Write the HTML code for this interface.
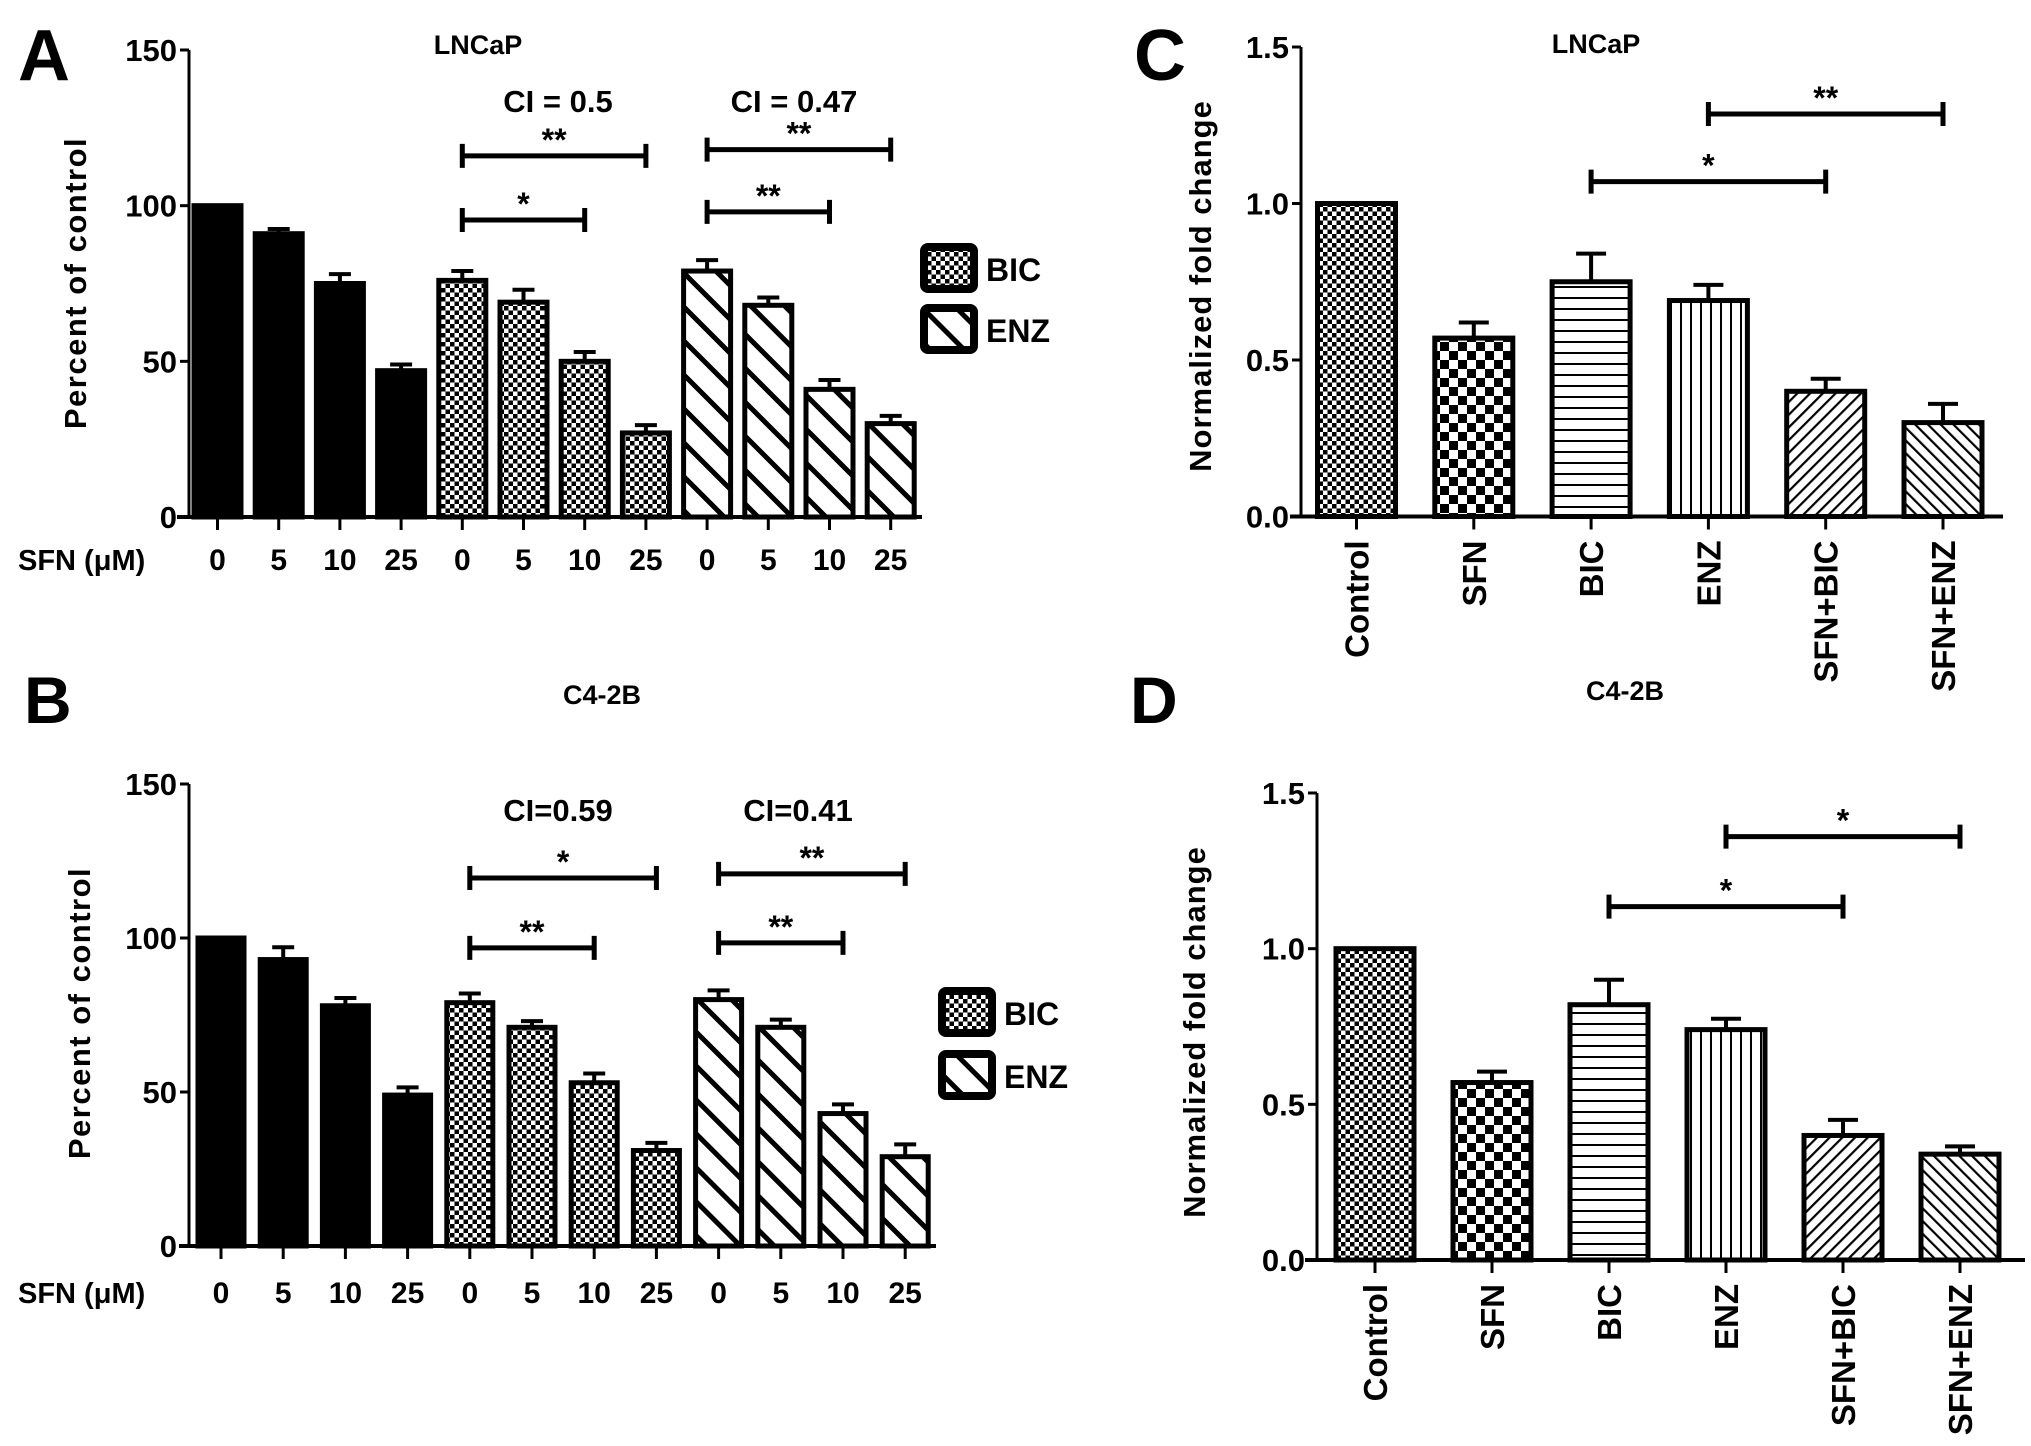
<!DOCTYPE html>
<html><head><meta charset="utf-8">
<style>
html,body{margin:0;padding:0;background:#fff;}
svg{display:block;}
text{font-family:"Liberation Sans",Arial,sans-serif;font-weight:bold;fill:#000;}
</style></head>
<body>
<svg id="fig" width="2031" height="1446" viewBox="0 0 2031 1446" xmlns="http://www.w3.org/2000/svg">
<defs>
<pattern id="pFine" width="9" height="9" patternUnits="userSpaceOnUse"><rect width="9" height="9" fill="#fff"/><rect x="0" y="0" width="4.5" height="4.5" fill="#000"/><rect x="4.5" y="4.5" width="4.5" height="4.5" fill="#000"/></pattern>
<pattern id="pBig" width="18" height="18" patternUnits="userSpaceOnUse"><rect width="18" height="18" fill="#fff"/><rect x="0" y="0" width="9" height="9" fill="#000"/><rect x="9" y="9" width="9" height="9" fill="#000"/></pattern>
<pattern id="pH" width="10" height="11" patternUnits="userSpaceOnUse"><rect width="10" height="11" fill="#fff"/><rect x="0" y="0" width="10" height="2" fill="#000"/></pattern>
<pattern id="pV" width="10" height="10" patternUnits="userSpaceOnUse"><rect width="10" height="10" fill="#fff"/><rect x="0" y="0" width="2" height="10" fill="#000"/></pattern>
<pattern id="pFwd" width="9" height="9" patternUnits="userSpaceOnUse" patternTransform="rotate(45)"><rect width="9" height="9" fill="#fff"/><rect x="0" y="0" width="2.2" height="9" fill="#000"/></pattern>
<pattern id="pBack" width="9" height="9" patternUnits="userSpaceOnUse" patternTransform="rotate(-45)"><rect width="9" height="9" fill="#fff"/><rect x="0" y="0" width="2.2" height="9" fill="#000"/></pattern>
<pattern id="pWide" width="24" height="24" patternUnits="userSpaceOnUse" patternTransform="rotate(-45)"><rect width="24" height="24" fill="#fff"/><rect x="0" y="0" width="5" height="24" fill="#000"/></pattern>
</defs>
</svg>
<script>
// ---- Panel A data (LNCaP, percent of control)
const doseLabels = ["0","5","10","25","0","5","10","25","0","5","10","25"];
const aValues = [100, 91, 75, 47, 76, 69, 50, 27, 79, 68, 41, 30];
const aErrors = [0, 1.5, 3, 2, 3, 4, 3, 2.5, 3.5, 2.5, 3, 2.5];
// ---- Panel B data (C4-2B, percent of control)
const bValues = [100, 93, 78, 49, 79, 71, 53, 31, 80, 71, 43, 29];
const bErrors = [0, 4, 2.5, 2.5, 3, 2, 3, 2.5, 3, 2.5, 3, 4];
const pctTicks = [0, 50, 100, 150];
// ---- Panel C/D data (normalized fold change)
const treatments = ["Control","SFN","BIC","ENZ","SFN+BIC","SFN+ENZ"];
const cValues = [1.0, 0.57, 0.75, 0.69, 0.40, 0.30];
const cErrors = [0, 0.05, 0.09, 0.05, 0.04, 0.06];
const dValues = [1.0, 0.57, 0.82, 0.74, 0.40, 0.34];
const dErrors = [0, 0.035, 0.08, 0.035, 0.05, 0.025];
const foldTicks = [0, 0.5, 1.0, 1.5];
const foldTickLabels = ["0.0","0.5","1.0","1.5"];
// significance brackets: [fromIndex, toIndex, yValue, label]
const aBrackets = [[4,7,116,"**"],[4,6,95.4,"*"],[8,11,118,"**"],[8,10,98,"**"]];
const bBrackets = [[4,7,119.5,"*"],[4,6,96.8,"**"],[8,11,120.8,"**"],[8,10,98.4,"**"]];
const cBrackets = [[2,4,1.07,"*"],[3,5,1.286,"**"]];
const dBrackets = [[2,4,1.135,"*"],[3,5,1.36,"*"]];

const NS = "http://www.w3.org/2000/svg";
const svg = document.getElementById("fig");
function el(tag, attrs, parent, txt){
  const e = document.createElementNS(NS, tag);
  for (const k in attrs) e.setAttribute(k, attrs[k]);
  if (txt !== undefined) e.textContent = txt;
  (parent||svg).appendChild(e);
  return e;
}

function panel(cfg){
  const g = el("g", {});
  
  
  const ys = v => cfg.y0 - (v - 0) / cfg.ymax * (cfg.y0 - cfg.yTop);
  const xs = i => cfg.x0 + i * cfg.sp;
  cfg.values.forEach((v, i) => {
    const top = ys(v);
    const err = cfg.errors[i];
    if (err > 0) {
      const ey = ys(v + err);
      const ebar = el("path", {d:`M${xs(i)} ${top} V${ey} M${xs(i)-cfg.cap/2} ${ey} H${xs(i)+cfg.cap/2}`, stroke:"#000","stroke-width":4, fill:"none"}, g);
      
      
    }
    const r = el("rect", {x:xs(i)-cfg.bw/2, y:top, width:cfg.bw, height:cfg.y0-top, fill:cfg.fills[i], stroke:"#000","stroke-width":5}, g);
    
    
  });
  const yax = el("line", {x1:cfg.ax, y1:cfg.yTop, x2:cfg.ax, y2:cfg.y0, stroke:"#000","stroke-width":3}, g);
  
  
  const xax = el("line", {x1:cfg.xaStart, y1:cfg.y0, x2:cfg.xaEnd, y2:cfg.y0, stroke:"#000","stroke-width":4}, g);
  
  
  cfg.ticks.forEach((t, k) => {
    el("line", {x1:cfg.ax-9, y1:ys(t), x2:cfg.ax, y2:ys(t), stroke:"#000","stroke-width":3}, g);
    const tl = el("text", {x:cfg.ax-12, y:ys(t)+11, "font-size":cfg.tickFont, "text-anchor":"end"}, g, cfg.tickLabels[k]);
    
    
  });
  cfg.values.forEach((v, i) => {
    el("line", {x1:xs(i), y1:cfg.y0, x2:xs(i), y2:cfg.y0+13, stroke:"#000","stroke-width":3}, g);
  });
  cfg.xLabels.forEach((lab, i) => {
    let t;
    if (cfg.rotate) {
      t = el("text", {x:0, y:0, "font-size":33, "text-anchor":"end", transform:`translate(${xs(i)+12},${cfg.y0+24}) rotate(-90)`}, g, lab);
    } else {
      t = el("text", {x:xs(i), y:cfg.xLabelY, "font-size":30, "text-anchor":"middle"}, g, lab);
    }
    
    
  });
  cfg.brackets.forEach(b => {
    const y = ys(b[2]), x1 = xs(b[0]), x2 = xs(b[1]);
    const p = el("path", {d:`M${x1} ${y-12} V${y+12} M${x1} ${y} H${x2} M${x2} ${y-12} V${y+12}`, stroke:"#000","stroke-width":5, fill:"none"}, g);
    
    
    const s = el("text", {x:(x1+x2)/2, y:y-5, "font-size":32, "text-anchor":"middle"}, g, b[3]);
    
    
  });
  const yt = el("text", {x:0, y:0, "font-size":cfg.yTitleFont, "text-anchor":"middle", transform:`translate(${cfg.yTitleX},${cfg.yTitleY}) rotate(-90)`, "letter-spacing":cfg.yTitleLs||0}, g, cfg.yTitle);
  
  
}

const fillsAB = ["#000","#000","#000","#000","url(#pFine)","url(#pFine)","url(#pFine)","url(#pFine)","url(#pWide)","url(#pWide)","url(#pWide)","url(#pWide)"];
const fillsCD = ["url(#pFine)","url(#pBig)","url(#pH)","url(#pV)","url(#pFwd)","url(#pBack)"];

panel({name:"panel-a-chart", values:aValues, errors:aErrors, fills:fillsAB, x0:217.5, sp:61.2, bw:47, cap:22,
  y0:517, yTop:50, ymax:150, ax:189, xaStart:177, xaEnd:922, ticks:pctTicks, tickLabels:pctTicks.map(String), tickFont:31,
  xLabels:doseLabels, rotate:false, xLabelY:570, brackets:aBrackets, yTitle:"Percent of control", yTitleX:86, yTitleY:283, yTitleFont:31, yTitleLs:1.5});
panel({name:"panel-b-chart", values:bValues, errors:bErrors, fills:fillsAB, x0:221, sp:62.2, bw:46, cap:22,
  y0:1246, yTop:784, ymax:150, ax:189, xaStart:179, xaEnd:936, ticks:pctTicks, tickLabels:pctTicks.map(String), tickFont:31,
  xLabels:doseLabels, rotate:false, xLabelY:1303, brackets:bBrackets, yTitle:"Percent of control", yTitleX:90, yTitleY:1013, yTitleFont:31, yTitleLs:1.5});
panel({name:"panel-c-chart", values:cValues, errors:cErrors, fills:fillsCD, x0:1356.5, sp:117.3, bw:78, cap:30,
  y0:516.5, yTop:47, ymax:1.5, ax:1301, xaStart:1290, xaEnd:2003, ticks:foldTicks, tickLabels:foldTickLabels, tickFont:31,
  xLabels:treatments, rotate:true, brackets:cBrackets, yTitle:"Normalized fold change", yTitleX:1211, yTitleY:286, yTitleFont:31, yTitleLs:1});
panel({name:"panel-d-chart", values:dValues, errors:dErrors, fills:fillsCD, x0:1375, sp:117, bw:78, cap:30,
  y0:1260, yTop:793, ymax:1.5, ax:1317, xaStart:1305, xaEnd:2025, ticks:foldTicks, tickLabels:foldTickLabels, tickFont:31,
  xLabels:treatments, rotate:true, brackets:dBrackets, yTitle:"Normalized fold change", yTitleX:1205, yTitleY:1032, yTitleFont:31, yTitleLs:1});

function txt(name, x, y, size, s, anchor){
  const t = el("text", {x:x, y:y, "font-size":size, "text-anchor":anchor||"middle"}, svg, s);
  
  
}
txt("panel-label-a", 18, 80, 72, "A", "start");
txt("panel-label-b", 24, 723, 66, "B", "start");
txt("panel-label-c", 1134, 80, 72, "C", "start");
txt("panel-label-d", 1130, 723, 66, "D", "start");
txt("title-a", 478, 54, 27, "LNCaP");
txt("title-b", 602, 704, 27, "C4-2B");
txt("title-c", 1596, 53, 27, "LNCaP");
txt("title-d", 1625, 700, 27, "C4-2B");
txt("ci-label-bic-a", 558, 112, 31, "CI = 0.5");
txt("ci-label-enz-a", 794, 112, 31, "CI = 0.47");
txt("ci-label-bic-b", 558, 821, 31, "CI=0.59");
txt("ci-label-enz-b", 798, 821, 31, "CI=0.41");
txt("sfn-label-a", 18, 570, 29, "SFN (μM)", "start");
txt("sfn-label-b", 18, 1303, 29, "SFN (μM)", "start");

function legend(name, x, y, fill, label){
  const g = el("g", {});
  
  
  el("rect", {x:x+4, y:y+4, width:50, height:42, rx:4, fill:fill, stroke:"#000","stroke-width":8}, g);
  el("text", {x:x+66, y:y+38, "font-size":32, "text-anchor":"start"}, g, label);
}
legend("legend-bic-a", 920, 243, "url(#pFine)", "BIC");
legend("legend-enz-a", 920, 304, "url(#pWide)", "ENZ");
legend("legend-bic-b", 938, 987, "url(#pFine)", "BIC");
legend("legend-enz-b", 938, 1050, "url(#pWide)", "ENZ");
</script>
</body></html>
